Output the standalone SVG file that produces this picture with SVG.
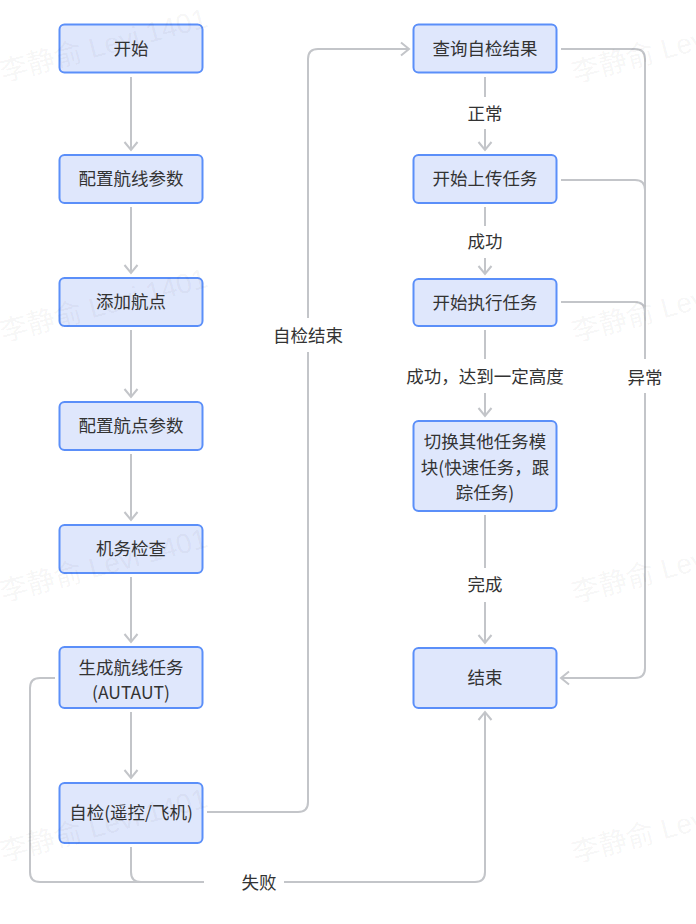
<svg xmlns="http://www.w3.org/2000/svg" width="696" height="924" viewBox="0 0 696 924">
<style>
.bg{fill:#ffffff}
.wm{font-family:"Liberation Sans","Noto Sans CJK SC",sans-serif;font-size:28px;fill:#000;fill-opacity:0.05}
.node rect{fill:#dfe7fc;stroke:#5b8ff9;stroke-width:2}
.node text,.lbl text{font-family:"Noto Sans CJK SC","Noto Sans",sans-serif;font-size:17.5px;fill:#333;text-anchor:middle}
.edge{fill:none;stroke:#c3c5c9;stroke-width:2}
.lblbg{fill:#ffffff}
</style>
<defs>
<marker id="arr" viewBox="-10 -8 12 16" markerWidth="12" markerHeight="16" refX="0" refY="0" orient="auto" markerUnits="userSpaceOnUse">
<path d="M-8,-6.5 L0,0 L-8,6.5" fill="none" stroke="#c3c5c9" stroke-width="2"/>
</marker>
</defs>
<rect class="bg" x="0" y="0" width="696" height="924"/>
<g id="connectors">
<path class="edge" d="M131,77 V150" marker-end="url(#arr)"/>
<path class="edge" d="M131,207 V273" marker-end="url(#arr)"/>
<path class="edge" d="M131,330 V397" marker-end="url(#arr)"/>
<path class="edge" d="M131,454 V520" marker-end="url(#arr)"/>
<path class="edge" d="M131,577 V642" marker-end="url(#arr)"/>
<path class="edge" d="M131,712 V778" marker-end="url(#arr)"/>
<path class="edge" d="M207,812 H298 Q308,812 308,802 V59 Q308,49 318,49 H409" marker-end="url(#arr)"/>
<path class="edge" d="M131,847 V872 Q131,882 141,882 H475 Q485,882 485,872 V712" marker-end="url(#arr)"/>
<path class="edge" d="M55,678 H40 Q30,678 30,688 V872 Q30,882 40,882 H141"/>
<path class="edge" d="M485,77 V150" marker-end="url(#arr)"/>
<path class="edge" d="M485,207 V274" marker-end="url(#arr)"/>
<path class="edge" d="M485,330 V416" marker-end="url(#arr)"/>
<path class="edge" d="M485,515 V643" marker-end="url(#arr)"/>
<path class="edge" d="M561,49 H635 Q645,49 645,59 V668 Q645,678 635,678 H561" marker-end="url(#arr)"/>
<path class="edge" d="M561,180 H635 Q645,180 645,190"/>
<path class="edge" d="M561,302 H635 Q645,302 645,312"/>
<g class="lbl">
<rect class="lblbg" x="270" y="318" width="76" height="34"/>
<text x="308" y="342">自检结束</text>
<rect class="lblbg" x="204" y="867" width="80" height="32"/>
<text x="259" y="889">失败</text>
<rect class="lblbg" x="463" y="97" width="44" height="32"/>
<text x="485" y="120">正常</text>
<rect class="lblbg" x="463" y="226" width="44" height="32"/>
<text x="485" y="248">成功</text>
<rect class="lblbg" x="402" y="359" width="166" height="34"/>
<text x="485" y="383">成功，达到一定高度</text>
<rect class="lblbg" x="463" y="568" width="44" height="34"/>
<text x="485" y="591">完成</text>
<rect class="lblbg" x="623" y="359" width="44" height="34"/>
<text x="645" y="384">异常</text>
</g>
</g>
<g id="n_start" class="node"><rect x="59.5" y="24.5" width="143" height="48" rx="5"/><text x="131" y="54.5">开始</text></g>
<g id="n_cfgroute" class="node"><rect x="59.5" y="155" width="143" height="48" rx="5"/><text x="131" y="185">配置航线参数</text></g>
<g id="n_addwp" class="node"><rect x="59.5" y="278" width="143" height="48" rx="5"/><text x="131" y="308">添加航点</text></g>
<g id="n_cfgwp" class="node"><rect x="59.5" y="402" width="143" height="48" rx="5"/><text x="131" y="432">配置航点参数</text></g>
<g id="n_check" class="node"><rect x="59.5" y="525" width="143" height="48" rx="5"/><text x="131" y="555">机务检查</text></g>
<g id="n_gen" class="node"><rect x="59.5" y="647" width="143" height="61" rx="5"/><text x="131" y="674">生成航线任务</text><text x="131" y="699">(AUTAUT)</text></g>
<g id="n_self" class="node"><rect x="59.5" y="783" width="143" height="60" rx="5"/><text x="131" y="819">自检(遥控/飞机)</text></g>
<g id="n_query" class="node"><rect x="413.5" y="24.5" width="143" height="48" rx="5"/><text x="485" y="54.5">查询自检结果</text></g>
<g id="n_upload" class="node"><rect x="413.5" y="155" width="143" height="48" rx="5"/><text x="485" y="185">开始上传任务</text></g>
<g id="n_exec" class="node"><rect x="413.5" y="279" width="143" height="47" rx="5"/><text x="485" y="309">开始执行任务</text></g>
<g id="n_switch" class="node"><rect x="413.5" y="421" width="143" height="90" rx="5"/><text x="485" y="448">切换其他任务模</text><text x="485" y="474">块(快速任务，跟</text><text x="485" y="499">踪任务)</text></g>
<g id="n_end" class="node"><rect x="413.5" y="648" width="143" height="60" rx="5"/><text x="485" y="684">结束</text></g>
<g id="watermarks">
<text class="wm" x="3" y="82" transform="rotate(-15 3 82)">李静俞 Levi 1401</text>
<text class="wm" x="3" y="342" transform="rotate(-15 3 342)">李静俞 Levi 1401</text>
<text class="wm" x="3" y="602" transform="rotate(-15 3 602)">李静俞 Levi 1401</text>
<text class="wm" x="3" y="862" transform="rotate(-15 3 862)">李静俞 Levi 1401</text>
<text class="wm" x="575" y="83" transform="rotate(-15 575 83)">李静俞 Levi 1401</text>
<text class="wm" x="575" y="342" transform="rotate(-15 575 342)">李静俞 Levi 1401</text>
<text class="wm" x="575" y="603" transform="rotate(-15 575 603)">李静俞 Levi 1401</text>
<text class="wm" x="575" y="863" transform="rotate(-15 575 863)">李静俞 Levi 1401</text>
</g>
</svg>
